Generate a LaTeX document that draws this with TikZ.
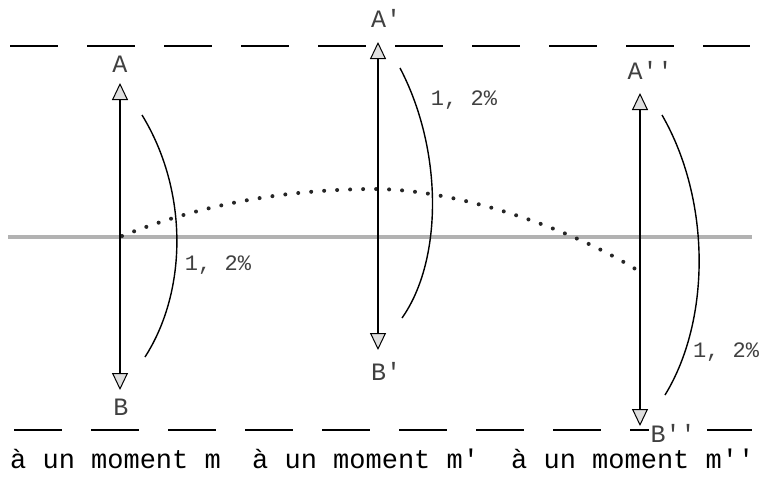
\documentclass[tikz,border=0pt]{standalone}
\usepackage{fontspec}
\setmonofont{Liberation Mono}
\usetikzlibrary{arrows.meta}

\begin{document}
\begin{tikzpicture}[x=1pt, y=-1pt, font=\ttfamily,
    limite/.style={line width=1.6pt, dash pattern=on 48pt off 29pt},
    vecteur/.style={line width=1.6pt, {Triangle[length=17pt, width=16pt, fill=gray!25, line width=1pt]}-{Triangle[length=17pt, width=16pt, fill=gray!25, line width=1pt]}},
    arcpct/.style={line width=1.4pt},
    lettre/.style={font=\fontsize{25}{27}\selectfont\ttfamily, inner sep=0pt, text=black!75},
    pct/.style={font=\fontsize{22}{24}\selectfont\ttfamily, inner sep=0pt, text=black!75},
    legende/.style={font=\fontsize{27}{29}\selectfont\ttfamily, inner sep=0pt, anchor=base west}]
    \useasboundingbox (0,0) rectangle (761,477);

    % Dashed limits and middle line
    \coordinate (h0) at (10,46);  \coordinate (h1) at (750,46);
    \coordinate (b0) at (14,430); \coordinate (b1) at (752,430);
    \coordinate (m0) at (8,237);  \coordinate (m1) at (752,237);
    \draw[limite] (h0) -- (h1);
    \draw[limite] (b0) -- (b1);
    \draw[gray!60, line width=3.4pt] (m0) -- (m1);

    % Dotted trajectory
    \coordinate (t0) at (122,236); \coordinate (t1) at (370,189); \coordinate (t2) at (637,270);
    \draw[line width=4pt, line cap=round, dash pattern=on 0pt off 13pt, black!85]
        (t0) .. controls (200,205) and (280,190) .. (t1) .. controls (455,188) and (570,228) .. (t2);

    % Moment m
    \coordinate (A1) at (120,83);  \coordinate (B1) at (120,390);
    \draw[vecteur] (B1) -- (A1);
    \node[lettre] (lA1) at (120,64) {A};
    \node[lettre] (lB1) at (121,407) {B};
    \draw[arcpct] (142,115) .. controls (188,190) and (188,290) .. (145,357);
    \node[pct] (p1) at (218,265) {1, 2\%};

    % Moment m'
    \coordinate (A2) at (378,42);  \coordinate (B2) at (378,350);
    \draw[vecteur] (B2) -- (A2);
    \node[lettre] (lA2) at (386,18) {A'};
    \node[lettre] (lB2) at (386,371) {B'};
    \draw[arcpct] (400,68) .. controls (443,150) and (443,260) .. (402,318);
    \node[pct] (p2) at (464,100) {1, 2\%};

    % Moment m''
    \coordinate (A3) at (640,93);  \coordinate (B3) at (640,426);
    \draw[vecteur] (B3) -- (A3);
    \node[lettre] (lA3) at (650,70) {A''};
    \node[lettre, fill=white, inner sep=2pt] (lB3) at (673,433) {B''};
    \draw[arcpct] (662,115) .. controls (711,200) and (711,320) .. (665,395);
    \node[pct] (p3) at (726,352) {1, 2\%};

    % Legend
    \node[legende] (g1) at (10,468) {à un moment m};
    \node[legende] (g2) at (252,468) {à un moment m'};
    \node[legende] (g3) at (511,468) {à un moment m''};
\end{tikzpicture}
\end{document}
